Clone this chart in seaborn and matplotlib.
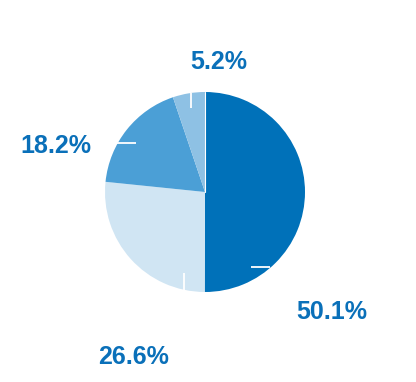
import matplotlib
matplotlib.use("Agg")
import matplotlib.pyplot as plt
import seaborn as sns

# chart data
shares = [50.1, 26.6, 18.2, 5.2]
share_labels = ["50.1%", "26.6%", "18.2%", "5.2%"]
slice_colors = ["#0071b9", "#d0e5f3", "#4b9fd6", "#8ec1e4"]

# layout for labels and white leader ticks (data units, radius = 1)
label_xy = [(1.27, -1.20), (-0.71, -1.65), (-1.49, 0.46), (0.14, 1.30)]
tick_lines = [
    ((0.46, 0.65), (-0.745, -0.745)),
    ((-0.21, -0.21), (-0.81, -0.98)),
    ((-0.88, -0.69), (0.49, 0.49)),
    ((-0.135, -0.135), (0.99, 0.84)),
]

sns.set_theme(style="white")
plt.rcParams["font.family"] = ["Liberation Sans", "DejaVu Sans"]

fig = plt.figure(figsize=(4.16, 3.82), dpi=100)
ax = fig.add_axes([0, 0, 1, 1])

wedges, _ = ax.pie(shares, colors=slice_colors, startangle=90, counterclock=False,
                   radius=1.0, wedgeprops={"linewidth": 0})
# thin white seam at the top between the first and last slices
ax.plot([0, 0], [0.0, 1.0], color="white", lw=0.8)

for (xs, ys) in tick_lines:
    ax.plot(xs, ys, color="white", lw=1.3, solid_capstyle="butt")

for txt, (x, y) in zip(share_labels, label_xy):
    ax.text(x, y, txt, ha="center", va="center", fontsize=18,
            fontweight="bold", color="#0a70b9")

ax.set_xlim(-2.05, 2.11)
ax.set_ylim(-1.90, 1.92)
ax.set_aspect("equal")
ax.axis("off")

fig.savefig("out.png", dpi=100, facecolor="white")
